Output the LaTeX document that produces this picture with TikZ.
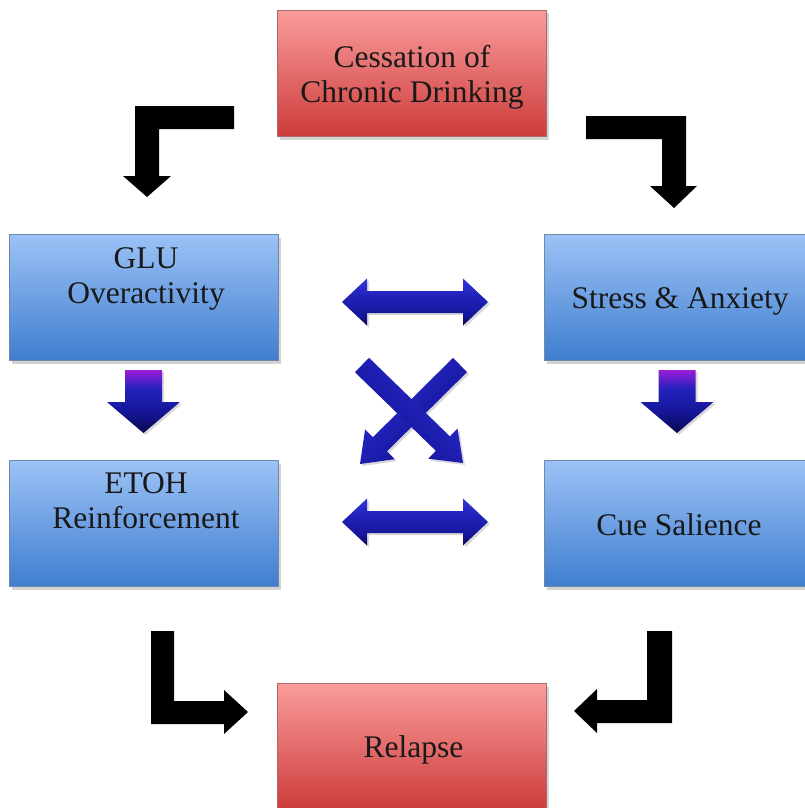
\documentclass[tikz,border=0pt]{standalone}
\usepackage{fontspec}
\setmainfont{Liberation Serif}
\usetikzlibrary{shadows}
\definecolor{bluetop}{HTML}{9CC2F6}
\definecolor{bluebot}{HTML}{3F7ECF}
\definecolor{blueedge}{HTML}{6F89A8}
\definecolor{redtop}{HTML}{FA9C9C}
\definecolor{redbot}{HTML}{CD3B3B}
\definecolor{rededge}{HTML}{A86A6A}
\definecolor{arrlight}{HTML}{3434DA}
\definecolor{arrmid}{HTML}{2222BC}
\definecolor{arrdeep}{HTML}{16169A}
\definecolor{arrbot}{HTML}{08084E}
\definecolor{arrpurp}{HTML}{9A1CD8}
\pgfdeclareverticalshading{bluesh}{100bp}{color(0bp)=(arrbot); color(25bp)=(arrbot); color(36bp)=(arrdeep); color(58bp)=(arrmid); color(75bp)=(arrlight); color(100bp)=(arrlight)}
\pgfdeclareverticalshading{downsh}{100bp}{color(0bp)=(arrbot); color(25bp)=(arrbot); color(42bp)=(arrdeep); color(60bp)=(arrmid); color(75bp)=(arrpurp); color(100bp)=(arrpurp)}
\begin{document}
\begin{tikzpicture}[x=1pt,y=-1pt,
  boxbase/.style={line width=0.8pt, minimum width=269pt, minimum height=126pt, inner sep=0pt,
    drop shadow={shadow xshift=2pt,shadow yshift=-3pt,opacity=0.35}},
  bluebox/.style={boxbase, draw=blueedge, top color=bluetop, bottom color=bluebot},
  redbox/.style={boxbase, draw=rededge, top color=redtop, bottom color=redbot},
  lbl/.style={font=\fontsize{31.5}{35}\selectfont, inner sep=0pt, anchor=base, text=black!90},
  bentarrow/.style={fill=black},
  bluearrow/.style={shading=bluesh,
    drop shadow={shadow xshift=2pt,shadow yshift=-2pt,opacity=0.3}},
  downarrow/.style={shading=downsh,
    drop shadow={shadow xshift=2pt,shadow yshift=-2pt,opacity=0.3}}
]
\useasboundingbox (0,0) rectangle (805,808);
\clip (0,0) rectangle (805,808);

% boxes
\node[redbox]  (cess)    at (412,73.5)  {};
\node[bluebox] (glu)     at (144,297.5) {};
\node[bluebox] (stress)  at (679,297.5) {};
\node[bluebox] (etoh)    at (144,523.5) {};
\node[bluebox] (cue)     at (679,523.5) {};
\node[redbox]  (relapse) at (412,746.5) {};

% texts
\node[lbl] (cesstxt) at (412,102) {\begin{tabular}[b]{@{}c@{}}Cessation of\\Chronic Drinking\end{tabular}};
\node[lbl] (glutxt) at (146,303) {\begin{tabular}[b]{@{}c@{}}GLU\\Overactivity\end{tabular}};
\node[lbl] (stresstxt) at (680,308) {Stress \& Anxiety};
\node[lbl] (etohtxt) at (146,528) {\begin{tabular}[b]{@{}c@{}}ETOH\\Reinforcement\end{tabular}};
\node[lbl] (cuetxt) at (679,535) {Cue Salience};
\node[lbl] (relapsetxt) at (413.5,757) {Relapse};

% black bent arrows
\fill[bentarrow] (234,106) -- (135,106) -- (135,176) -- (123,176) -- (147,197) -- (171,176)
  -- (159,176) -- (159,129) -- (234,129) -- cycle;
\fill[bentarrow] (586,116) -- (686,116) -- (686,186) -- (697,186) -- (674,208) -- (650,186)
  -- (662,186) -- (662,139) -- (586,139) -- cycle;
\fill[bentarrow] (151,631) -- (174,631) -- (174,701) -- (224,701) -- (224,690) -- (248,712)
  -- (224,734) -- (224,724) -- (151,724) -- cycle;
\fill[bentarrow] (672,631) -- (647,631) -- (647,700) -- (597,700) -- (597,689) -- (574,711)
  -- (597,733) -- (597,723) -- (672,723) -- cycle;

% blue double arrows
\path[bluearrow] (342,302) -- (367,278.5) -- (367,291) -- (463,291) -- (463,278.5) -- (488,302)
  -- (463,325.5) -- (463,313) -- (367,313) -- (367,325.5) -- cycle;
\path[bluearrow] (342,522) -- (367,498.5) -- (367,511) -- (463,511) -- (463,498.5) -- (488,522)
  -- (463,545.5) -- (463,533) -- (367,533) -- (367,545.5) -- cycle;

% down arrows
\path[downarrow] (125,370) -- (162,370) -- (162,402) -- (180,402) -- (143.5,433) -- (107,402)
  -- (125,402) -- cycle;
\path[downarrow] (658.5,370) -- (695.5,370) -- (695.5,402) -- (713.5,402) -- (677,433)
  -- (640.5,402) -- (658.5,402) -- cycle;

% crossing arrows
\path[bluearrow, shading angle=45] (453,357.9) -- (467,372.1) -- (386.9,451.4) -- (394.7,459.2) -- (360,464)
  -- (365.1,429.4) -- (372.9,437.2) -- cycle;
\path[bluearrow, shading angle=-45] (355,372.2) -- (369,357.8) -- (449.9,436.4) -- (457.5,428.5) -- (463,463)
  -- (428.3,458.7) -- (435.9,450.8) -- cycle;
\end{tikzpicture}
\end{document}
